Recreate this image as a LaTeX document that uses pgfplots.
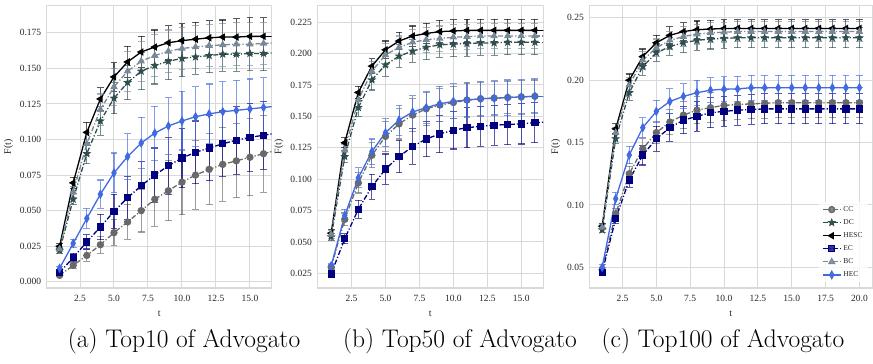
\documentclass[border=0pt]{standalone}
\usepackage{fontspec}
\usepackage{pgfplots}
\usepackage{pgfplotstable}
\pgfplotsset{compat=1.18}
\usetikzlibrary{plotmarks}
\newfontfamily\tfont{Liberation Serif}
\definecolor{cCC}{HTML}{696969}
\definecolor{cDC}{HTML}{2F4F4F}
\definecolor{cHS}{HTML}{000000}
\definecolor{cEC}{HTML}{000080}
\definecolor{cBC}{HTML}{778899}
\definecolor{cHE}{HTML}{4169E1}
\definecolor{gridc}{gray}{0.85}
\definecolor{tickc}{HTML}{262626}

\pgfdeclareplotmark{fstar}{%
  \pgfpathmoveto{\pgfpointpolar{90}{\pgfplotmarksize}}%
  \pgfpathlineto{\pgfpointpolar{126}{0.42\pgfplotmarksize}}%
  \pgfpathlineto{\pgfpointpolar{162}{\pgfplotmarksize}}%
  \pgfpathlineto{\pgfpointpolar{198}{0.42\pgfplotmarksize}}%
  \pgfpathlineto{\pgfpointpolar{234}{\pgfplotmarksize}}%
  \pgfpathlineto{\pgfpointpolar{270}{0.42\pgfplotmarksize}}%
  \pgfpathlineto{\pgfpointpolar{306}{\pgfplotmarksize}}%
  \pgfpathlineto{\pgfpointpolar{342}{0.42\pgfplotmarksize}}%
  \pgfpathlineto{\pgfpointpolar{18}{\pgfplotmarksize}}%
  \pgfpathlineto{\pgfpointpolar{54}{0.42\pgfplotmarksize}}%
  \pgfpathclose\pgfusepathqfillstroke}

\tikzset{dd/.style={dash pattern=on 5pt off 2pt on 1.2pt off 2pt}}
\pgfplotsset{
  ebar/.style={error bars/.cd, y dir=both, y explicit,
    error bar style={#1, line width=1.1pt, opacity=0.65, solid},
    error mark options={#1, line width=1.1pt, mark size=3.4pt, opacity=0.65, solid, rotate=90}},
  sCC/.style={draw=cCC, line width=1.3pt, dd, mark=*, mark size=3pt, mark options={solid, fill=cCC, draw=cCC}, ebar=cCC},
  sDC/.style={draw=cDC, line width=1.3pt, dd, mark=fstar, mark size=2.8pt, mark options={solid, fill=cDC, draw=cDC}, ebar=cDC},
  sHS/.style={draw=cHS, line width=1.3pt, solid, mark=triangle*, mark size=3.1pt, mark options={solid, fill=cHS, draw=cHS, rotate=90}, ebar=cHS},
  sEC/.style={draw=cEC, line width=1.3pt, dd, mark=square*, mark size=3pt, mark options={solid, fill=cEC, draw=cEC}, ebar=cEC},
  sBC/.style={draw=cBC, line width=1.3pt, dd, mark=triangle*, mark size=3.1pt, mark options={solid, fill=cBC, draw=cBC}, ebar=cBC},
  sHE/.style={draw=cHE, line width=1.3pt, solid, mark=diamond*, mark size=3.6pt, mark options={solid, fill=cHE, draw=cHE, xscale=0.75}, ebar=cHE},
  xCC/.style={draw=cCC, line width=1.3pt, dd, forget plot},
  xDC/.style={draw=cDC, line width=1.3pt, dd, forget plot},
  xHS/.style={draw=cHS, line width=1.3pt, solid, forget plot},
  xEC/.style={draw=cEC, line width=1.3pt, dd, forget plot},
  xBC/.style={draw=cBC, line width=1.3pt, dd, forget plot},
  xHE/.style={draw=cHE, line width=1.3pt, solid, forget plot},
  panel/.style={scale only axis, height=282.5pt,
    axis line style={draw=gridc, line width=1.2pt},
    grid=major, major grid style={draw=gridc, line width=1pt},
    major tick length=0pt,
    tick label style={font=\tfont\fontsize{9.5}{11}\selectfont, text=tickc},
    xticklabel style={yshift=-4pt},
    yticklabel style={xshift=-2pt},
    label style={font=\tfont\fontsize{10}{12}\selectfont, text=tickc},
    xlabel={t}, ylabel={F(t)},
    xlabel style={yshift=-2pt},
    xtick={2.5,5,7.5,10,12.5,15,17.5,20},
    xticklabel={\pgfmathprintnumber[fixed,fixed zerofill,precision=1,assume math mode=true]{\tick}},
    scaled ticks=false,
    legend image code/.code={\draw[##1, mark repeat=2, mark phase=2] plot coordinates {(0pt,0pt) (9pt,0pt) (18pt,0pt)};},
  },
}

\pgfplotstableread{
x cc ccE dc dcE hs hsE ec ecE bc bcE he heE
1 0.0045 0.001 0.022 0.002 0.025 0.002 0.0065 0.001 0.023 0.002 0.0095 0.001
2 0.0115 0.002 0.058 0.004 0.0695 0.004 0.017 0.003 0.063 0.004 0.027 0.003
3 0.0185 0.004 0.090 0.007 0.105 0.007 0.028 0.005 0.097 0.008 0.0445 0.007
4 0.026 0.006 0.113 0.010 0.1285 0.008 0.0385 0.009 0.121 0.011 0.0615 0.010
5 0.0345 0.009 0.129 0.011 0.144 0.010 0.0495 0.012 0.137 0.013 0.0765 0.014
6 0.042 0.012 0.140 0.012 0.1545 0.011 0.059 0.015 0.148 0.014 0.088 0.016
7 0.050 0.015 0.148 0.013 0.1615 0.011 0.0675 0.017 0.155 0.014 0.0975 0.018
8 0.058 0.019 0.152 0.013 0.165 0.012 0.075 0.019 0.159 0.015 0.1045 0.019
9 0.064 0.021 0.155 0.013 0.168 0.012 0.0815 0.020 0.162 0.015 0.1095 0.020
10 0.070 0.023 0.157 0.013 0.1695 0.012 0.087 0.021 0.164 0.015 0.113 0.021
11 0.075 0.024 0.158 0.012 0.1705 0.012 0.091 0.022 0.165 0.015 0.116 0.021
12 0.079 0.025 0.159 0.012 0.1715 0.012 0.094 0.023 0.166 0.015 0.118 0.021
13 0.0825 0.026 0.160 0.012 0.172 0.012 0.097 0.023 0.1665 0.015 0.1195 0.021
14 0.085 0.026 0.160 0.012 0.172 0.013 0.0995 0.024 0.167 0.015 0.1205 0.021
15 0.0875 0.027 0.1605 0.012 0.1725 0.013 0.1015 0.024 0.167 0.015 0.1215 0.021
16 0.090 0.027 0.1605 0.012 0.1725 0.013 0.103 0.024 0.1675 0.015 0.1225 0.021
}\tA
\pgfplotstableread{
x cc dc hs ec bc he
16 0.090 0.1605 0.1725 0.103 0.1675 0.1225
17 0.0925 0.161 0.1725 0.1045 0.168 0.1235
}\tAx

\pgfplotstableread{
x cc ccE dc dcE hs hsE ec ecE bc bcE he heE
1 0.030 0.002 0.054 0.003 0.057 0.003 0.0245 0.001 0.056 0.003 0.031 0.002
2 0.068 0.005 0.118 0.005 0.129 0.004 0.0525 0.004 0.123 0.005 0.071 0.005
3 0.097 0.008 0.157 0.007 0.169 0.005 0.076 0.007 0.163 0.007 0.101 0.008
4 0.119 0.010 0.179 0.008 0.190 0.006 0.094 0.010 0.186 0.008 0.122 0.010
5 0.134 0.012 0.191 0.009 0.203 0.007 0.108 0.012 0.199 0.009 0.137 0.011
6 0.144 0.012 0.198 0.009 0.210 0.007 0.118 0.013 0.205 0.009 0.147 0.012
7 0.151 0.013 0.202 0.009 0.214 0.008 0.126 0.014 0.209 0.010 0.1535 0.013
8 0.156 0.013 0.205 0.010 0.216 0.008 0.132 0.014 0.211 0.010 0.157 0.013
9 0.159 0.013 0.207 0.010 0.2175 0.009 0.136 0.015 0.212 0.010 0.160 0.014
10 0.161 0.013 0.2075 0.010 0.218 0.009 0.139 0.015 0.213 0.010 0.162 0.014
11 0.163 0.013 0.208 0.010 0.2185 0.009 0.141 0.016 0.2135 0.010 0.163 0.014
12 0.164 0.013 0.2085 0.010 0.2185 0.009 0.142 0.016 0.214 0.010 0.164 0.014
13 0.1645 0.013 0.2085 0.010 0.2185 0.009 0.143 0.016 0.214 0.010 0.1645 0.014
14 0.165 0.013 0.209 0.010 0.2185 0.009 0.1435 0.016 0.214 0.010 0.165 0.014
15 0.1655 0.013 0.209 0.010 0.2185 0.009 0.144 0.016 0.214 0.010 0.1655 0.014
16 0.166 0.013 0.209 0.010 0.2185 0.009 0.145 0.016 0.214 0.010 0.166 0.014
}\tB
\pgfplotstableread{
x cc dc hs ec bc he
16 0.166 0.209 0.2185 0.145 0.214 0.166
17 0.166 0.209 0.2185 0.1455 0.214 0.166
}\tBx

\pgfplotstableread{
x cc ccE dc dcE hs hsE ec ecE bc bcE he heE
1 0.048 0.002 0.080 0.002 0.083 0.002 0.046 0.001 0.082 0.002 0.050 0.002
2 0.093 0.004 0.153 0.004 0.161 0.004 0.089 0.004 0.158 0.004 0.105 0.005
3 0.125 0.006 0.190 0.006 0.200 0.005 0.120 0.006 0.196 0.006 0.140 0.007
4 0.145 0.008 0.211 0.007 0.219 0.006 0.140 0.008 0.216 0.007 0.162 0.008
5 0.158 0.009 0.222 0.007 0.230 0.006 0.153 0.010 0.226 0.007 0.175 0.009
6 0.1665 0.010 0.227 0.007 0.236 0.007 0.162 0.011 0.232 0.007 0.183 0.010
7 0.172 0.011 0.230 0.008 0.239 0.007 0.168 0.011 0.235 0.008 0.187 0.010
8 0.176 0.011 0.232 0.008 0.2405 0.007 0.171 0.012 0.237 0.008 0.190 0.010
9 0.178 0.012 0.233 0.008 0.241 0.007 0.174 0.012 0.238 0.008 0.192 0.010
10 0.1798 0.012 0.2335 0.008 0.2415 0.007 0.175 0.012 0.2385 0.008 0.1928 0.010
11 0.1805 0.012 0.234 0.008 0.2415 0.007 0.176 0.012 0.239 0.008 0.193 0.010
12 0.181 0.012 0.234 0.008 0.2415 0.007 0.1765 0.012 0.239 0.008 0.194 0.010
13 0.1815 0.012 0.234 0.008 0.2415 0.007 0.177 0.012 0.239 0.008 0.194 0.010
14 0.182 0.012 0.234 0.008 0.2415 0.007 0.177 0.012 0.239 0.008 0.194 0.010
15 0.182 0.012 0.234 0.008 0.2415 0.007 0.177 0.012 0.239 0.008 0.194 0.010
16 0.182 0.012 0.234 0.008 0.2415 0.007 0.177 0.012 0.239 0.008 0.194 0.010
17 0.182 0.012 0.234 0.008 0.2415 0.007 0.177 0.012 0.239 0.008 0.194 0.010
18 0.182 0.012 0.234 0.008 0.2415 0.007 0.177 0.012 0.239 0.008 0.194 0.010
19 0.182 0.012 0.234 0.008 0.2415 0.007 0.177 0.012 0.239 0.008 0.194 0.010
20 0.182 0.012 0.234 0.008 0.2415 0.007 0.177 0.012 0.239 0.008 0.194 0.010
}\tC

\begin{document}
\begin{tikzpicture}
\useasboundingbox (0,0) rectangle (873pt,364pt);

% Panel (a)
\begin{axis}[panel, at={(46.7pt,76pt)}, anchor=south west, width=225pt,
  xmin=0.05, xmax=16.6, ymin=-0.0044, ymax=0.1942,
  ytick={0,0.025,0.05,0.075,0.1,0.125,0.15,0.175},
  yticklabel={\pgfmathprintnumber[fixed,fixed zerofill,precision=3,assume math mode=true]{\tick}}]
\addplot[sCC] table[x=x,y=cc,y error=ccE]{\tA};
\addplot[sDC] table[x=x,y=dc,y error=dcE]{\tA};
\addplot[sHS] table[x=x,y=hs,y error=hsE]{\tA};
\addplot[sEC] table[x=x,y=ec,y error=ecE]{\tA};
\addplot[sBC] table[x=x,y=bc,y error=bcE]{\tA};
\addplot[sHE] table[x=x,y=he,y error=heE]{\tA};
\addplot[xCC] table[x=x,y=cc]{\tAx};
\addplot[xDC] table[x=x,y=dc]{\tAx};
\addplot[xHS] table[x=x,y=hs]{\tAx};
\addplot[xEC] table[x=x,y=ec]{\tAx};
\addplot[xBC] table[x=x,y=bc]{\tAx};
\addplot[xHE] table[x=x,y=he]{\tAx};
\end{axis}

% Panel (b)
\begin{axis}[panel, at={(317.3pt,76pt)}, anchor=south west, width=226pt,
  xmin=-0.02, xmax=16.62, ymin=0.0133, ymax=0.2383,
  ytick={0.025,0.05,0.075,0.1,0.125,0.15,0.175,0.2,0.225},
  yticklabel={\pgfmathprintnumber[fixed,fixed zerofill,precision=3,assume math mode=true]{\tick}}]
\addplot[sCC] table[x=x,y=cc,y error=ccE]{\tB};
\addplot[sDC] table[x=x,y=dc,y error=dcE]{\tB};
\addplot[sHS] table[x=x,y=hs,y error=hsE]{\tB};
\addplot[sEC] table[x=x,y=ec,y error=ecE]{\tB};
\addplot[sBC] table[x=x,y=bc,y error=bcE]{\tB};
\addplot[sHE] table[x=x,y=he,y error=heE]{\tB};
\addplot[xCC] table[x=x,y=cc]{\tBx};
\addplot[xDC] table[x=x,y=dc]{\tBx};
\addplot[xHS] table[x=x,y=hs]{\tBx};
\addplot[xEC] table[x=x,y=ec]{\tBx};
\addplot[xBC] table[x=x,y=bc]{\tBx};
\addplot[xHE] table[x=x,y=he]{\tBx};
\end{axis}

% Panel (c)
\begin{axis}[panel, at={(589.3pt,76pt)}, anchor=south west, width=283pt,
  xmin=0.05, xmax=20.95, ymin=0.0334, ymax=0.2599,
  ytick={0.05,0.1,0.15,0.2,0.25},
  yticklabel={\pgfmathprintnumber[fixed,fixed zerofill,precision=2,assume math mode=true]{\tick}},
  legend style={at={(rel axis cs:0.984,0.02)}, anchor=south east, draw=none,
    fill=white, fill opacity=0.8, text opacity=1,
    font=\tfont\fontsize{7.5}{9}\selectfont, row sep=2.6pt, text=tickc},
  legend cell align=left]
\addplot[sCC] table[x=x,y=cc,y error=ccE]{\tC};
\addlegendentry{CC}
\addplot[sDC] table[x=x,y=dc,y error=dcE]{\tC};
\addlegendentry{DC}
\addplot[sHS] table[x=x,y=hs,y error=hsE]{\tC};
\addlegendentry{HESC}
\addplot[sEC] table[x=x,y=ec,y error=ecE]{\tC};
\addlegendentry{EC}
\addplot[sBC] table[x=x,y=bc,y error=bcE]{\tC};
\addlegendentry{BC}
\addplot[sHE] table[x=x,y=he,y error=heE]{\tC};
\addlegendentry{HEC}
\end{axis}

\node[font=\fontsize{25.5}{30}\selectfont] at (184pt,23pt) {(a) Top10 of Advogato};
\node[font=\fontsize{25.5}{30}\selectfont] at (460pt,23pt) {(b) Top50 of Advogato};
\node[font=\fontsize{25.5}{30}\selectfont] at (723pt,23pt) {(c) Top100 of Advogato};
\end{tikzpicture}
\end{document}
